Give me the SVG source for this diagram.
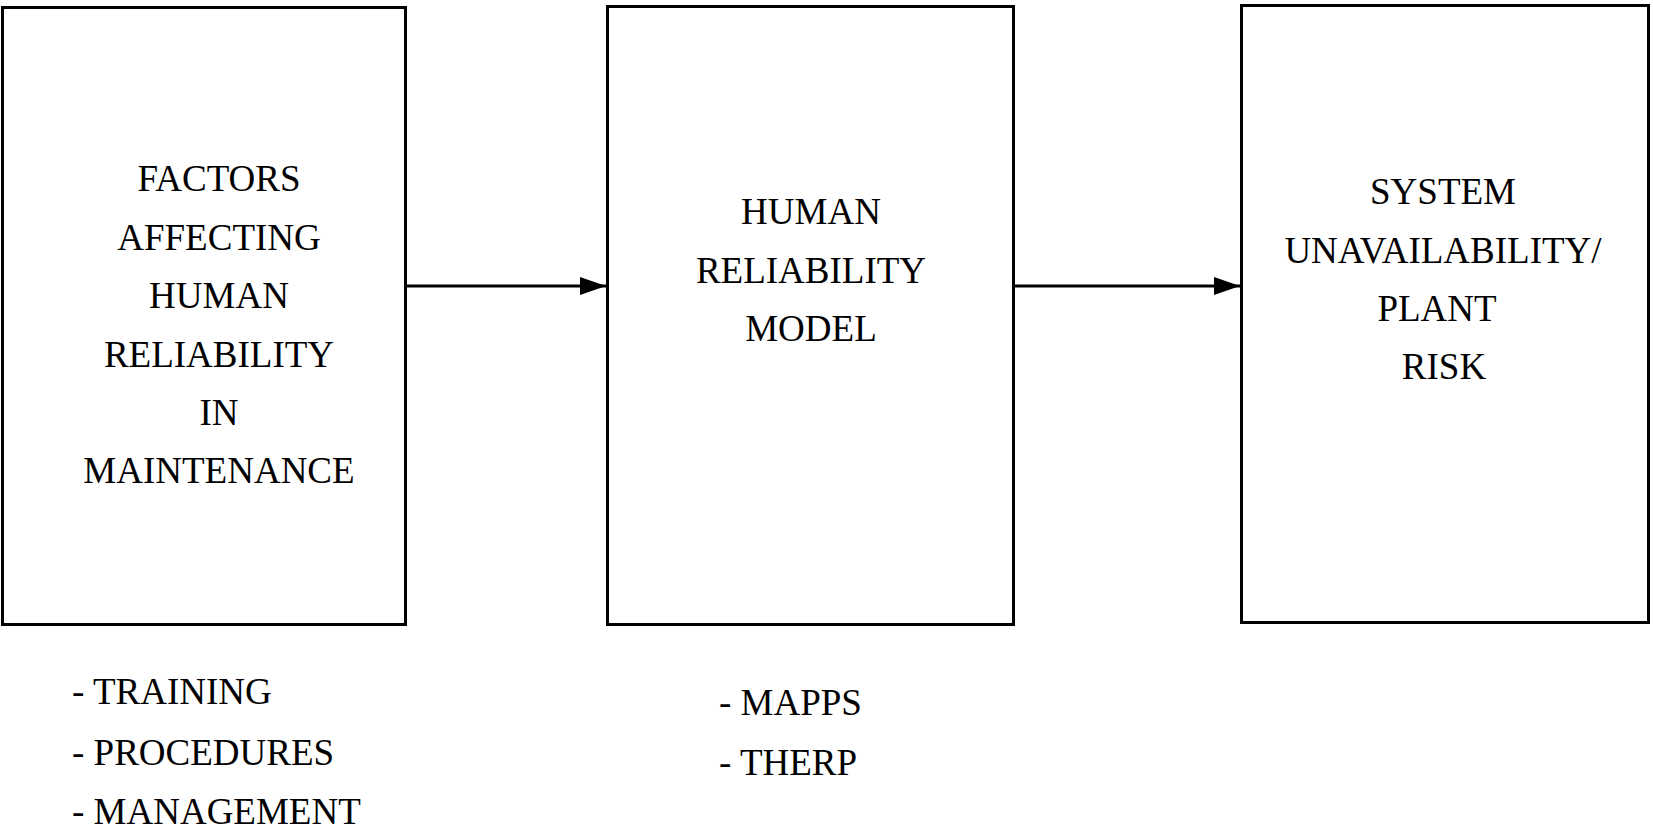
<svg xmlns="http://www.w3.org/2000/svg" width="1653" height="832" viewBox="0 0 1653 832">
<style>
.box{fill:#fff;stroke:#000;stroke-width:3}
.t{font-family:"Liberation Serif","Times New Roman",serif;font-size:37px;fill:#000}
.c{text-anchor:middle}
.ln{stroke:#000;stroke-width:3;fill:none}
</style>
<defs>
<marker id="ah" markerWidth="26" markerHeight="20" refX="26" refY="10" orient="auto" markerUnits="userSpaceOnUse">
<path d="M0,1 L26,10 L0,19 Z" fill="#000"/>
</marker>
</defs>
<rect width="1653" height="832" fill="#fff"/>
<g id="connectors">
<line class="ln" x1="406" y1="286" x2="606" y2="286" marker-end="url(#ah)"/>
<line class="ln" x1="1014" y1="286" x2="1240" y2="286" marker-end="url(#ah)"/>
</g>
<g id="node-factors">
<rect class="box" x="2.5" y="7.5" width="403" height="617"/>
<text class="t c" x="219" y="191">FACTORS</text>
<text class="t c" x="219" y="250">AFFECTING</text>
<text class="t c" x="219" y="308">HUMAN</text>
<text class="t c" x="219" y="367">RELIABILITY</text>
<text class="t c" x="219" y="425">IN</text>
<text class="t c" x="219" y="483">MAINTENANCE</text>
</g>
<g id="node-model">
<rect class="box" x="607.5" y="6.5" width="406" height="618"/>
<text class="t c" x="811" y="224">HUMAN</text>
<text class="t c" x="811" y="283">RELIABILITY</text>
<text class="t c" x="811" y="341">MODEL</text>
</g>
<g id="node-risk">
<rect class="box" x="1241.5" y="5.5" width="407" height="617"/>
<text class="t c" x="1443" y="204">SYSTEM</text>
<text class="t c" x="1443" y="263">UNAVAILABILITY/</text>
<text class="t c" x="1437" y="321">PLANT</text>
<text class="t c" x="1444" y="379">RISK</text>
</g>
<g id="list-factors">
<text class="t" x="72" y="704">- TRAINING</text>
<text class="t" x="72" y="765">- PROCEDURES</text>
<text class="t" x="72" y="824">- MANAGEMENT</text>
</g>
<g id="list-models">
<text class="t" x="719" y="715">- MAPPS</text>
<text class="t" x="719" y="775">- THERP</text>
</g>
</svg>
